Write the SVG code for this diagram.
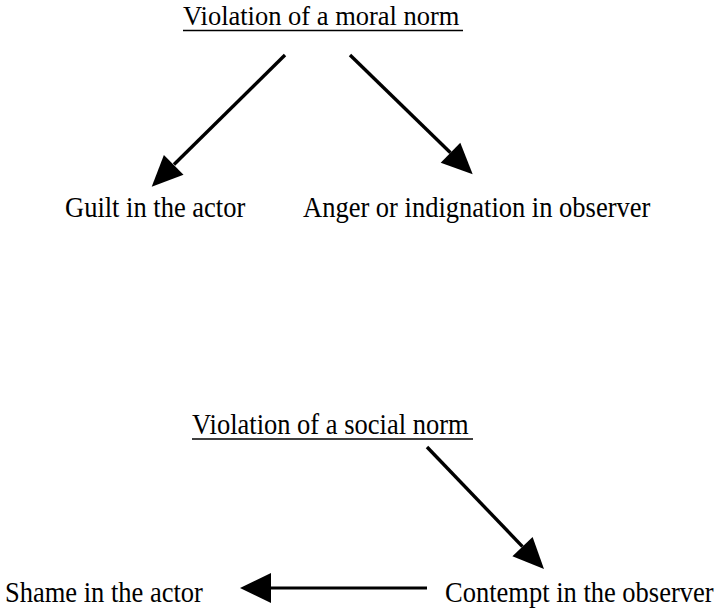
<svg xmlns="http://www.w3.org/2000/svg" width="716" height="611" viewBox="0 0 716 611">
  <style>
    .lbl { font-family: "Liberation Serif", "Times New Roman", serif; font-size: 26.5px; fill: #000; }
    .ul { stroke: #000; stroke-width: 1.6; }
    .shaft { stroke: #000; stroke-width: 3.4; fill: none; }
    .head { fill: #000; stroke: none; }
  </style>
  <rect width="716" height="611" fill="#fff"/>

  <!-- upper triangle: moral norm -->
  <g id="moral-norm">
    <text class="lbl" transform="translate(183,25) scale(1,1.05)">Violation of a moral norm</text>
    <line class="ul" x1="183" y1="30.5" x2="463" y2="30.5"/>
  </g>
  <g id="guilt">
    <text class="lbl" transform="translate(65,217) scale(1,1.08)">Guilt in the actor</text>
  </g>
  <g id="anger">
    <text class="lbl" transform="translate(303,217) scale(1,1.08)">Anger or indignation in observer</text>
  </g>

  <!-- lower triangle: social norm -->
  <g id="social-norm">
    <text class="lbl" transform="translate(192,434) scale(1,1.08)">Violation of a social norm</text>
    <line class="ul" x1="192" y1="439" x2="473" y2="439"/>
  </g>
  <g id="shame">
    <text class="lbl" transform="translate(5,602) scale(1,1.08)">Shame in the actor</text>
  </g>
  <g id="contempt">
    <text class="lbl" transform="translate(445,602) scale(1,1.08)">Contempt in the observer</text>
  </g>

  <g id="connectors">
    <!-- moral norm -> guilt -->
    <line class="shaft" x1="285" y1="55" x2="174" y2="164.5"/>
    <polygon class="head" points="151.7,186.7 163.9,154.9 183.5,174.8"/>
    <!-- moral norm -> anger -->
    <line class="shaft" x1="350" y1="55" x2="450.5" y2="152.7"/>
    <polygon class="head" points="472.7,174.3 440.7,162.7 460.3,142.7"/>
    <!-- social norm -> contempt -->
    <line class="shaft" x1="427" y1="447" x2="522.5" y2="546.6"/>
    <polygon class="head" points="544,569 512.4,556.3 532.6,536.9"/>
    <!-- contempt -> shame -->
    <line class="shaft" x1="427" y1="588" x2="271" y2="588" style="stroke-width:2.8"/>
    <polygon class="head" points="240,588 271,573 271,603"/>
  </g>
</svg>
